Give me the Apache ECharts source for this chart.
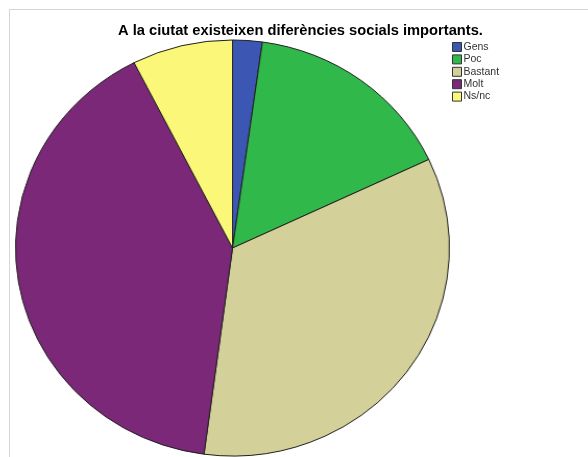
<!DOCTYPE html>
<html>
<head>
<meta charset="utf-8">
<script src="https://cdn.jsdelivr.net/npm/echarts@6/dist/echarts.min.js"></script>
<style>
  html, body { margin: 0; padding: 0; background: #ffffff; }
  #wrap { position: relative; width: 588px; height: 457px; overflow: hidden; }
  #frame { position: absolute; left: 9px; top: 9px; width: 579px; height: 448px;
           border-left: 1px solid #d6d6d6; border-top: 1px solid #d6d6d6; box-sizing: border-box; }
  #pie { position: absolute; left: 0; top: 0; width: 588px; height: 457px;
         transform-origin: 232.5px 248px; transform: scaleX(1.043); }
  #over { position: absolute; left: 0; top: 0; width: 588px; height: 457px; }
</style>
</head>
<body>
<div id="wrap">
  <div id="frame"></div>
  <div id="pie"></div>
  <div id="over"></div>
</div>
<script>
const titleText = 'A la ciutat existeixen diferències socials importants.';
const categories = ['Gens', 'Poc', 'Bastant', 'Molt', 'Ns/nc'];
const values = [2.2, 15.8, 34.1, 40.4, 7.5];
const colors = ['#3c56b3', '#30b84a', '#d4d09a', '#7b2879', '#fbf779'];

const pieData = categories.map((c, i) => ({ name: c, value: values[i], itemStyle: { color: colors[i] } }));

const pieChart = echarts.init(document.getElementById('pie'), null, { renderer: 'canvas' });
pieChart.setOption({
  animation: false,
  series: [{
    type: 'pie',
    center: [232.5, 248],
    radius: [0, 208],
    startAngle: 90,
    clockwise: true,
    label: { show: false },
    labelLine: { show: false },
    emphasis: { disabled: true },
    silent: true,
    itemStyle: { borderColor: '#1e1e1e', borderWidth: 1 },
    data: pieData
  }]
});

const overChart = echarts.init(document.getElementById('over'), null, { renderer: 'canvas' });
overChart.setOption({
  animation: false,
  title: {
    text: titleText,
    left: 295.5,
    textAlign: 'center',
    top: 18,
    textStyle: { fontFamily: 'Liberation Sans, Arial, sans-serif', fontSize: 14.7, fontWeight: 'bold', color: '#000' }
  },
  legend: {
    orient: 'vertical',
    left: 452,
    top: 41.5,
    padding: 0,
    itemWidth: 9,
    itemHeight: 9,
    itemGap: 1.4,
    icon: 'rect',
    selectedMode: false,
    itemStyle: { borderColor: '#333', borderWidth: 1 },
    textStyle: { fontFamily: 'Liberation Sans, Arial, sans-serif', fontSize: 10.5, lineHeight: 9.7, color: '#333', padding: [0, 0, 0, -3] },
    data: categories
  },
  series: [{
    type: 'pie',
    center: [232.5, 248],
    radius: [0, 0],
    label: { show: false },
    labelLine: { show: false },
    silent: true,
    data: pieData
  }]
});
</script>
</body>
</html>
